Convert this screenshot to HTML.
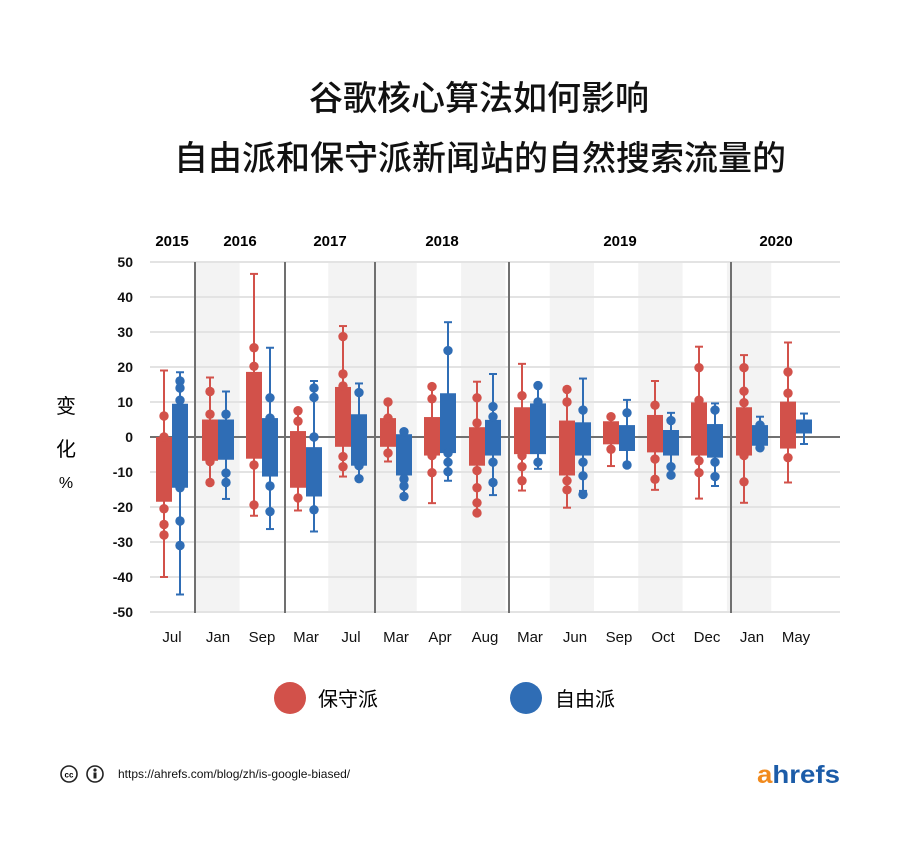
<!DOCTYPE html>
<html><head><meta charset="utf-8"><style>
html,body{margin:0;padding:0;background:#fff;width:900px;height:844px;overflow:hidden}
</style></head><body>
<svg id="s" width="900" height="844" xmlns="http://www.w3.org/2000/svg" font-family="Liberation Sans, Noto Sans CJK SC, sans-serif">
<text x="479" y="110" font-size="34" font-weight="500" text-anchor="middle" fill="#111" font-family="Liberation Sans, Noto Sans CJK SC, sans-serif">谷歌核心算法如何影响</text>
<text x="480" y="170" font-size="34" font-weight="500" text-anchor="middle" fill="#111" font-family="Liberation Sans, Noto Sans CJK SC, sans-serif">自由派和保守派新闻站的自然搜索流量的</text>
<g id="chart"></g>
<text x="66" y="413" font-size="20" text-anchor="middle" font-family="Liberation Sans, Noto Sans CJK SC, sans-serif">变</text>
<text x="66" y="456" font-size="20" text-anchor="middle" font-family="Liberation Sans, Noto Sans CJK SC, sans-serif">化</text>
<text x="66" y="488" font-size="16" text-anchor="middle">%</text>
<circle cx="290" cy="698" r="16" fill="#d2514a"/>
<text x="318" y="706" font-size="20" font-family="Liberation Sans, Noto Sans CJK SC, sans-serif">保守派</text>
<circle cx="526" cy="698" r="16" fill="#2f6db5"/>
<text x="555" y="706" font-size="20" font-family="Liberation Sans, Noto Sans CJK SC, sans-serif">自由派</text>
<circle cx="69" cy="774" r="8" fill="none" stroke="#222" stroke-width="1.6"/>
<text x="69" y="777.5" font-size="8" font-weight="bold" text-anchor="middle">cc</text>
<circle cx="95" cy="774" r="8" fill="none" stroke="#222" stroke-width="1.6"/>
<circle cx="95" cy="770" r="1.6" fill="#222"/><rect x="93.5" y="772.5" width="3" height="6" fill="#222"/>
<text x="118" y="778" font-size="12" fill="#111">https://ahrefs.com/blog/zh/is-google-biased/</text>
<text x="757" y="783" font-size="25" font-weight="bold" fill="#f18a1d" textLength="83" lengthAdjust="spacingAndGlyphs">a<tspan fill="#1c5ca8">hrefs</tspan></text>
</svg>
<script>
var g=document.getElementById('chart'),h='';
function Y(v){return 437-3.5*v}
var cols=[];for(var i=0;i<15;i++)cols.push(151+44.3*i);
[1,4,5,7,9,11,13].forEach(function(i){h+='<rect x="'+cols[i]+'" y="262" width="44.3" height="350" fill="#f3f3f3"/>'});
for(var v=50;v>=-50;v-=10){h+='<line x1="150" x2="840" y1="'+Y(v)+'" y2="'+Y(v)+'" stroke="#e3e3e3" stroke-width="2"/>';
h+='<text x="133" y="'+(Y(v)+5)+'" font-size="14" font-weight="bold" text-anchor="end" fill="#111">'+v+'</text>'}
h+='<line x1="150" x2="840" y1="437" y2="437" stroke="#707070" stroke-width="2"/>';
[195,285,375,509,731].forEach(function(x){h+='<line x1="'+x+'" x2="'+x+'" y1="262" y2="613" stroke="#707070" stroke-width="2"/>'});
var yrs=[[172,'2015'],[240,'2016'],[330,'2017'],[442,'2018'],[620,'2019'],[776,'2020']];
yrs.forEach(function(y){h+='<text x="'+y[0]+'" y="246" font-size="15" font-weight="bold" text-anchor="middle">'+y[1]+'</text>'});
var mon=['Jul','Jan','Sep','Mar','Jul','Mar','Apr','Aug','Mar','Jun','Sep','Oct','Dec','Jan','May'];
var C=[172,218,262,306,351,396,440,485,530,575,619,663,707,752,796];
mon.forEach(function(m,i){h+='<text x="'+C[i]+'" y="642" font-size="15" text-anchor="middle" fill="#111">'+m+'</text>'});
var R=[[19,-40,0,-18.5,[6,0,-20.5,-25,-28]],[17,-13,5,-6.8,[13,6.5,-7,-13]],[46.6,-22.5,18.6,-6.2,[25.5,20.2,-8,-19.4]],[8,-21,1.7,-14.5,[7.5,4.5,-17.4]],[31.7,-11.3,14.3,-2.8,[28.7,18,14.6,-5.6,-8.5]],[10,-7,5.4,-2.8,[10,5.4,-4.6]],[14.4,-18.9,5.7,-5.3,[14.4,10.9,-5.3,-10.2]],[15.8,-21.7,2.8,-8.2,[11.2,4,-9.6,-14.5,-18.8,-21.7]],[20.9,-15.3,8.5,-4.9,[11.8,-5.3,-8.5,-12.5]],[13.6,-20.2,4.7,-11,[13.6,10,-12.5,-15.1]],[5.8,-8.3,4.5,-2.1,[5.8,-3.5]],[16,-15.1,6.3,-4.4,[9.1,-6.3,-12.1]],[25.8,-17.6,9.9,-5.3,[19.8,10.5,-6.8,-10.2]],[23.4,-18.8,8.5,-5.3,[19.8,13.1,9.8,-5.3,-12.8]],[27,-13,10.1,-3.3,[18.6,12.5,-5.9]]];
var B=[[18.5,-45,9.5,-14.5,[16,14,10.5,-14.5,-24,-31]],[13,-17.7,5,-6.5,[6.5,-10.3,-13]],[25.5,-26.3,5.4,-11.3,[11.2,5.4,-14,-21.3]],[16,-27,-2.9,-17,[14,11.3,0,-20.8]],[15.3,-11.5,6.5,-8.2,[12.7,-8.2,-11.9]],[2,-17,0.8,-11,[1.5,-12,-14,-17]],[32.8,-12.5,12.5,-4.6,[24.7,-4.6,-7.2,-9.9]],[18,-16.6,4.9,-5.3,[8.7,5.8,-7.2,-13]],[14.7,-9.1,9.6,-4.9,[14.7,10,-7.2]],[16.7,-15.4,4.2,-5.3,[7.7,-7.2,-11.1,-16.4]],[10.6,-8,3.4,-4,[6.9,-8]],[6.9,-10.9,2,-5.3,[4.7,-8.5,-10.9]],[9.6,-14,3.7,-5.9,[7.7,-7.2,-11.3]],[5.8,-3.1,3.4,-2.5,[3.4,-3.1]],[6.7,-2,5,1,[]]];
function draw(d,cx,col){
 h+='<line x1="'+cx+'" x2="'+cx+'" y1="'+Y(d[0])+'" y2="'+Y(d[1])+'" stroke="'+col+'" stroke-width="2"/>';
 [d[0],d[1]].forEach(function(v){h+='<line x1="'+(cx-4)+'" x2="'+(cx+4)+'" y1="'+Y(v)+'" y2="'+Y(v)+'" stroke="'+col+'" stroke-width="2"/>'});
 h+='<rect x="'+(cx-8)+'" y="'+Y(d[2])+'" width="16" height="'+(Y(d[3])-Y(d[2]))+'" fill="'+col+'"/>';
 d[4].forEach(function(v){h+='<circle cx="'+cx+'" cy="'+Y(v)+'" r="4.7" fill="'+col+'"/>'});
}
for(var i=0;i<15;i++){draw(R[i],C[i]-8,'#d2514a');draw(B[i],C[i]+8,'#2f6db5');}
g.innerHTML=h;
</script>
</body></html>
